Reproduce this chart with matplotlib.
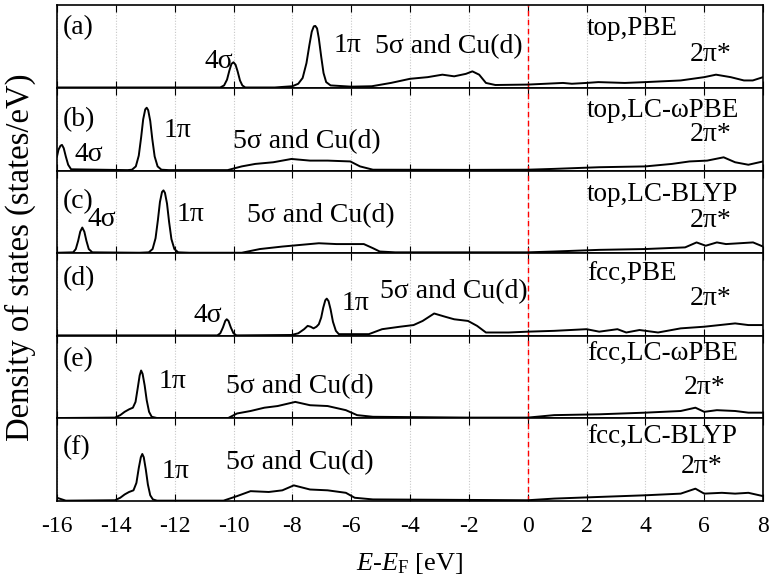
import matplotlib
matplotlib.use("Agg")
import matplotlib.pyplot as plt

plt.rcParams['font.family'] = ['Liberation Serif', 'DejaVu Serif']
plt.rcParams['mathtext.fontset'] = 'custom'
plt.rcParams['mathtext.rm'] = 'Liberation Serif'
plt.rcParams['mathtext.it'] = 'Liberation Serif:italic'
plt.rcParams['axes.unicode_minus'] = False

# energies (eV, relative to E_F) and DOS (arb. units)
e_a = [-16, -10.45, -10.32, -10.22, -10.14, -10.07, -10.0, -9.93, -9.86, -9.78, -9.7, -9.6,
       -8.6, -8.0, -7.8, -7.65, -7.52, -7.42, -7.34, -7.27, -7.22, -7.16, -7.1, -7.02,
       -6.94, -6.85, -6.7, -6.0, -5.3, -4.65, -4.0, -3.4, -2.9, -2.5, -2.1, -1.88, -1.65,
       -1.42, -1.1, 0, 0.6, 1.2, 1.5, 2.0, 2.4, 3.3, 4.0, 4.6, 5.2, 6.0, 6.4, 6.9, 7.35,
       7.65, 8.0]
dos_a = [0.005, 0.005, 0.03, 0.10, 0.21, 0.29, 0.31, 0.28, 0.20, 0.09, 0.03, 0.005,
         0.005, 0.02, 0.05, 0.12, 0.30, 0.52, 0.68, 0.745, 0.75, 0.72, 0.60, 0.38,
         0.18, 0.07, 0.03, 0.015, 0.02, 0.06, 0.11, 0.13, 0.16, 0.14, 0.17, 0.20, 0.16,
         0.06, 0.035, 0.04, 0.05, 0.06, 0.05, 0.06, 0.07, 0.06, 0.07, 0.08, 0.09, 0.13, 0.16,
         0.13, 0.09, 0.09, 0.13]

e_b = [-16, -15.95, -15.88, -15.83, -15.77, -15.7, -15.62, -15.52, -13.6, -13.45, -13.32,
       -13.22, -13.14, -13.07, -13.0, -12.95, -12.9, -12.83, -12.76, -12.68, -12.58, -12.45,
       -12.2, -10.2, -9.72, -9.26, -8.65, -8.03, -7.4, -6.8, -6.03, -5.7, -5.26, -2.0, 0,
       0.9, 2.43, 4.0, 4.9, 5.5, 6.1, 6.66, 7.05, 7.5, 8.0]
dos_b = [0.17, 0.25, 0.30, 0.31, 0.27, 0.17, 0.07, 0.015, 0.005, 0.01, 0.05,
         0.18, 0.40, 0.62, 0.74, 0.76, 0.73, 0.60, 0.38, 0.17, 0.05, 0.01,
         0.005, 0.005, 0.05, 0.08, 0.10, 0.14, 0.12, 0.12, 0.11, 0.05, 0.01, 0.008, 0.01,
         0.02, 0.04, 0.05, 0.08, 0.11, 0.12, 0.16, 0.10, 0.07, 0.11]

e_c = [-16, -15.45, -15.36, -15.28, -15.21, -15.14, -15.07, -15.0, -14.92, -14.8, -13.2,
       -12.88, -12.75, -12.65, -12.57, -12.5, -12.43, -12.38, -12.33, -12.26, -12.19,
       -12.11, -12.01, -11.88, -11.5, -9.72, -9.1, -8.34, -7.72, -7.1, -6.5, -5.57, -5.26,
       -5.03, -4.5, 0, 0.9, 2.43, 4.0, 5.35, 5.74, 6.05, 6.43, 6.74, 7.2, 7.66, 8.0]
dos_c = [0.005, 0.01, 0.05, 0.15, 0.26, 0.31, 0.26, 0.15, 0.05, 0.01, 0.005,
         0.01, 0.05, 0.18, 0.40, 0.62, 0.74, 0.76, 0.73, 0.60, 0.38,
         0.17, 0.05, 0.01, 0.005, 0.005, 0.05, 0.08, 0.10, 0.12, 0.11, 0.11, 0.06,
         0.02, 0.01, 0.01, 0.02, 0.04, 0.05, 0.07, 0.13, 0.09, 0.13, 0.11, 0.12, 0.13, 0.08]

e_d = [-16, -10.55, -10.45, -10.36, -10.28, -10.23, -10.17, -10.09, -10.0, -9.9, -8.03,
       -7.8, -7.6, -7.48, -7.38, -7.28, -7.18, -7.1, -7.02, -6.95, -6.88, -6.83, -6.77,
       -6.7, -6.62, -6.52, -6.42, -5.4, -4.95, -4.34, -3.88, -3.57, -3.18, -2.8, -2.5,
       -2.03, -1.72, -1.42, -0.65, 0, 0.9, 2.0, 2.43, 3.05, 3.35, 3.8, 4.43, 5.2, 6.0,
       7.05, 7.5, 8.0]
dos_d = [0.005, 0.005, 0.03, 0.10, 0.18, 0.20, 0.18, 0.10, 0.03, 0.005, 0.01,
         0.03, 0.08, 0.12, 0.11, 0.09, 0.11, 0.14, 0.22, 0.34, 0.43, 0.45, 0.42,
         0.32, 0.17, 0.06, 0.02, 0.02, 0.08, 0.11, 0.13, 0.18, 0.27, 0.23, 0.20,
         0.18, 0.12, 0.04, 0.04, 0.05, 0.06, 0.08, 0.05, 0.08, 0.04, 0.07, 0.04, 0.09, 0.11,
         0.15, 0.13, 0.13]

e_e = [-16, -14.03, -13.85, -13.7, -13.55, -13.42, -13.33, -13.25, -13.19, -13.14, -13.09,
       -13.02, -12.95, -12.87, -12.78, -12.6, -10.18, -9.88, -9.42, -8.95, -8.5, -7.9,
       -7.4, -6.8, -6.18, -5.8, -5.26, -2.0, 0, 0.9, 2.43, 4.0, 5.2, 5.7, 6.0, 6.43,
       7.05, 7.5, 8.0]
dos_e = [0.005, 0.01, 0.04, 0.08, 0.11, 0.13, 0.20, 0.38, 0.52, 0.58, 0.54,
         0.40, 0.22, 0.08, 0.02, 0.005, 0.005, 0.06, 0.09, 0.13, 0.15, 0.20,
         0.16, 0.15, 0.10, 0.04, 0.02, 0.01, 0.01, 0.04, 0.05, 0.07, 0.09, 0.13, 0.08, 0.10,
         0.09, 0.07, 0.07]

e_f = [-16, -15.7, -14.03, -13.85, -13.7, -13.55, -13.4, -13.3, -13.22, -13.15, -13.1,
       -13.05, -12.98, -12.91, -12.83, -12.74, -12.6, -10.34, -9.88, -9.42, -8.8, -8.34,
       -7.95, -7.4, -6.8, -6.18, -5.88, -5.26, 0, 0.9, 2.43, 4.0, 5.2, 5.7, 6.0, 6.6,
       7.05, 7.5, 8.0]
dos_f = [0.04, 0.005, 0.01, 0.04, 0.08, 0.11, 0.13, 0.22, 0.40, 0.53, 0.57,
         0.53, 0.38, 0.20, 0.07, 0.02, 0.005, 0.005, 0.06, 0.12, 0.11, 0.13,
         0.19, 0.14, 0.13, 0.10, 0.04, 0.02, 0.01, 0.03, 0.05, 0.07, 0.09, 0.15, 0.09, 0.10,
         0.09, 0.10, 0.06]

panel_tags = ['(a)', '(b)', '(c)', '(d)', '(e)', '(f)']
setups = ['top,PBE', 'top,LC-ωPBE', 'top,LC-BLYP', 'fcc,PBE', 'fcc,LC-ωPBE', 'fcc,LC-BLYP']
energies = [e_a, e_b, e_c, e_d, e_e, e_f]
dos = [dos_a, dos_b, dos_c, dos_d, dos_e, dos_f]

# peak labels per panel: (text, left x in eV, y in panel units)
peak_labels = [
    [('4σ', -11.0, 0.32), ('1π', -6.61, 0.51), ('5σ and Cu(d)', -5.18, 0.50)],
    [('4σ', -15.39, 0.19), ('1π', -12.39, 0.48), ('5σ and Cu(d)', -10.01, 0.355)],
    [('4σ', -14.95, 0.41), ('1π', -11.92, 0.47), ('5σ and Cu(d)', -9.54, 0.45)],
    [('4σ', -11.37, 0.25), ('1π', -6.31, 0.39), ('5σ and Cu(d)', -5.01, 0.54)],
    [('1π', -12.55, 0.45), ('5σ and Cu(d)', -10.25, 0.39)],
    [('1π', -12.43, 0.355), ('5σ and Cu(d)', -10.25, 0.47)],
]
tag_y = [0.73, 0.62, 0.62, 0.69, 0.71, 0.65]
setup_y = [0.72, 0.73, 0.71, 0.74, 0.77, 0.77]
pistar_pos = [(5.5, 0.41), (5.5, 0.44), (5.5, 0.40), (5.5, 0.45), (5.3, 0.37), (5.2, 0.42)]

fig, axes = plt.subplots(6, 1, figsize=(7.7, 5.84), dpi=100, sharex=True)
fig.subplots_adjust(left=0.074, right=0.991, bottom=0.142, top=0.991, hspace=0)

fs = 20
for i, ax in enumerate(axes):
    ax.plot(energies[i], dos[i], color='black', lw=1.4, zorder=3)
    ax.axvline(0, color='red', ls=(0, (4, 2.5)), lw=1.0, zorder=2)
    ax.set_xlim(-16, 8)
    ax.set_ylim(0, 1)
    ax.set_yticks([])
    ax.set_xticks(range(-16, 9, 2))
    ax.grid(axis='x', color='#c8c8c8', ls=(0, (1, 1.5)), lw=0.8)
    ax.tick_params(axis='x', direction='in', top=True, bottom=True, length=5,
                   width=0.8, labelsize=17, pad=11)
    for s in ax.spines.values():
        s.set_linewidth(1.2)
    ax.text(-15.8, tag_y[i], panel_tags[i], fontsize=fs, ha='left', va='center')
    ax.text(2.02, setup_y[i], setups[i], fontsize=fs - 0.5, ha='left', va='center')
    ax.text(pistar_pos[i][0], pistar_pos[i][1], '2π*', fontsize=fs, ha='left', va='center')
    for txt, x, y in peak_labels[i]:
        ax.text(x, y, txt, fontsize=fs, ha='left', va='center')

axes[-1].set_xlabel(r'$E$-$E_\mathrm{F}$ [eV]', fontsize=19, labelpad=10)
fig.text(0.027, 0.56, 'Density of states (states/eV)', rotation=90,
         ha='center', va='center', fontsize=23.5)

fig.savefig('out.png', dpi=100)
